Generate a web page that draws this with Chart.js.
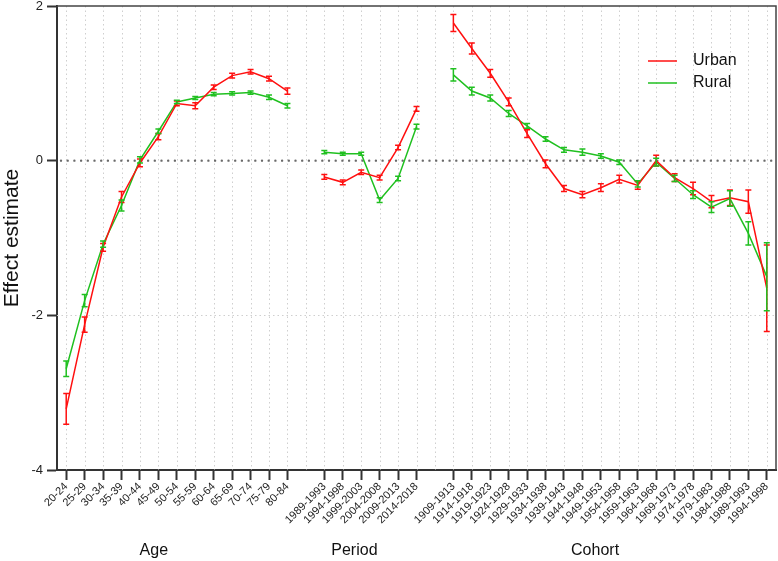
<!DOCTYPE html>
<html>
<head>
<meta charset="utf-8">
<script src="https://cdn.jsdelivr.net/npm/chart.js@4"></script>
<style>
  html, body { margin: 0; padding: 0; background: #fff; }
  #wrap { width: 778px; height: 561px; }
</style>
</head>
<body>
<div id="wrap"><canvas id="apcChart"></canvas></div>
<script>
var ageLabels = ['20-24', '25-29', '30-34', '35-39', '40-44', '45-49', '50-54', '55-59', '60-64', '65-69', '70-74', '75-79', '80-84'];
var periodLabels = ['1989-1993', '1994-1998', '1999-2003', '2004-2008', '2009-2013', '2014-2018'];
var cohortLabels = ['1909-1913', '1914-1918', '1919-1923', '1924-1928', '1929-1933', '1934-1938', '1939-1943', '1944-1948', '1949-1953',
  '1954-1958', '1959-1963', '1964-1968', '1969-1973', '1974-1978', '1979-1983', '1984-1988', '1989-1993', '1994-1998'];
var groupTitles = ['Age', 'Period', 'Cohort'];

// urban estimates and CI half widths
var urbanAge = [-3.21, -2.12, -1.12, -0.47, -0.03, 0.31, 0.74, 0.71, 0.95, 1.10, 1.15, 1.06, 0.90];
var urbanAgeErr = [0.20, 0.10, 0.05, 0.07, 0.05, 0.04, 0.03, 0.04, 0.03, 0.03, 0.03, 0.03, 0.04];
var urbanPeriod = [-0.21, -0.28, -0.15, -0.22, 0.17, 0.67];
var urbanPeriodErr = [0.03, 0.03, 0.03, 0.03, 0.03, 0.03];
var urbanCohort = [1.78, 1.45, 1.13, 0.76, 0.35, -0.04, -0.36, -0.44, -0.35, -0.24, -0.32, 0.00, -0.22, -0.36, -0.53, -0.48, -0.53, -1.65];
var urbanCohortErr = [0.11, 0.07, 0.05, 0.05, 0.05, 0.05, 0.04, 0.04, 0.05, 0.05, 0.05, 0.07, 0.05, 0.08, 0.08, 0.10, 0.15, 0.56];

// rural estimates and CI half widths
var ruralAge = [-2.69, -1.81, -1.08, -0.58, 0.01, 0.38, 0.76, 0.81, 0.86, 0.87, 0.88, 0.82, 0.71];
var ruralAgeErr = [0.10, 0.08, 0.04, 0.07, 0.04, 0.03, 0.02, 0.02, 0.02, 0.02, 0.02, 0.03, 0.03];
var ruralPeriod = [0.11, 0.09, 0.09, -0.51, -0.23, 0.44];
var ruralPeriodErr = [0.02, 0.02, 0.02, 0.03, 0.03, 0.03];
var ruralCohort = [1.11, 0.90, 0.81, 0.61, 0.45, 0.28, 0.14, 0.11, 0.06, -0.02, -0.30, -0.02, -0.23, -0.44, -0.60, -0.49, -0.94, -1.50];
var ruralCohortErr = [0.08, 0.05, 0.04, 0.04, 0.03, 0.03, 0.03, 0.04, 0.03, 0.03, 0.04, 0.05, 0.04, 0.05, 0.07, 0.10, 0.15, 0.44];

var yTicks = [-4, -2, 0, 2];

// one empty slot between the three blocks
function joinGroups(a, b, c, gap) {
  return a.concat([gap], b, [gap], c);
}
var labels = joinGroups(ageLabels, periodLabels, cohortLabels, '');
var urbanData = joinGroups(urbanAge, urbanPeriod, urbanCohort, null);
var urbanErr = joinGroups(urbanAgeErr, urbanPeriodErr, urbanCohortErr, null);
var ruralData = joinGroups(ruralAge, ruralPeriod, ruralCohort, null);
var ruralErr = joinGroups(ruralAgeErr, ruralPeriodErr, ruralCohortErr, null);

var FONT = '"Liberation Sans", Arial, sans-serif';
var RED = '#ff1010';
var GREEN = '#20c020';

var gridPlugin = {
  id: 'gridPlugin',
  beforeDatasetsDraw: function(chart) {
    var ctx = chart.ctx, a = chart.chartArea;
    var x = chart.scales.x, y = chart.scales.y;
    ctx.save();
    ctx.strokeStyle = '#cfcfcf';
    ctx.lineWidth = 1;
    ctx.setLineDash([1.5, 3]);
    for (var i = 0; i < labels.length; i++) {
      var px = Math.round(x.getPixelForValue(i)) + 0.5;
      ctx.beginPath();
      ctx.moveTo(px, a.top);
      ctx.lineTo(px, a.bottom);
      ctx.stroke();
    }
    var py = Math.round(y.getPixelForValue(-2)) + 0.5;
    ctx.beginPath();
    ctx.moveTo(a.left, py);
    ctx.lineTo(a.right, py);
    ctx.stroke();
    // zero reference line
    var pz = y.getPixelForValue(0);
    ctx.strokeStyle = '#6a6a6a';
    ctx.lineWidth = 2.4;
    ctx.lineCap = 'round';
    ctx.setLineDash([0, 6.7]);
    ctx.beginPath();
    ctx.moveTo(a.left + 4, pz);
    ctx.lineTo(a.right, pz);
    ctx.stroke();
    ctx.restore();
  }
};

var errorBarPlugin = {
  id: 'errorBarPlugin',
  afterDatasetsDraw: function(chart) {
    var ctx = chart.ctx, y = chart.scales.y;
    ctx.save();
    chart.data.datasets.forEach(function(ds, di) {
      var meta = chart.getDatasetMeta(di);
      ctx.strokeStyle = ds.borderColor;
      ctx.lineWidth = 1.5;
      ds.data.forEach(function(v, i) {
        if (v === null) return;
        var e = ds.errors[i];
        var px = meta.data[i].x;
        var top = y.getPixelForValue(v + e), bot = y.getPixelForValue(v - e);
        ctx.beginPath();
        ctx.moveTo(px, top); ctx.lineTo(px, bot);
        ctx.moveTo(px - 3, top); ctx.lineTo(px + 3, top);
        ctx.moveTo(px - 3, bot); ctx.lineTo(px + 3, bot);
        ctx.stroke();
      });
    });
    ctx.restore();
  }
};

var decorPlugin = {
  id: 'decorPlugin',
  afterDraw: function(chart) {
    var ctx = chart.ctx, a = chart.chartArea, x = chart.scales.x;
    ctx.save();
    // frame top and right
    ctx.strokeStyle = '#444';
    ctx.lineWidth = 1.5;
    ctx.beginPath();
    ctx.moveTo(a.left, a.top);
    ctx.lineTo(a.right, a.top);
    ctx.lineTo(a.right, a.bottom);
    ctx.stroke();

    // legend
    ctx.font = '16px ' + FONT;
    ctx.textBaseline = 'middle';
    chart.data.datasets.forEach(function(ds, i) {
      var ly = a.top + 55 + i * 22;
      ctx.strokeStyle = ds.borderColor;
      ctx.lineWidth = 1.5;
      ctx.beginPath();
      ctx.moveTo(a.right - 128, ly);
      ctx.lineTo(a.right - 99, ly);
      ctx.stroke();
      ctx.fillStyle = '#111';
      ctx.fillText(ds.label, a.right - 83, ly);
    });

    // group titles below the rotated tick labels
    var starts = [0, ageLabels.length + 1, ageLabels.length + periodLabels.length + 2];
    var counts = [ageLabels.length, periodLabels.length, cohortLabels.length];
    var shift = [-23, -16, -15];
    ctx.fillStyle = '#111';
    ctx.textAlign = 'center';
    groupTitles.forEach(function(t, g) {
      var x0 = x.getPixelForValue(starts[g]);
      var x1 = x.getPixelForValue(starts[g] + counts[g] - 1);
      ctx.fillText(t, (x0 + x1) / 2 + shift[g], 551);
    });
    ctx.restore();
  }
};

new Chart('apcChart', {
  type: 'line',
  data: {
    labels: labels,
    datasets: [{
      label: 'Urban',
      data: urbanData,
      errors: urbanErr,
      borderColor: RED,
      borderWidth: 1.5,
      pointRadius: 0,
      tension: 0,
      spanGaps: false
    }, {
      label: 'Rural',
      data: ruralData,
      errors: ruralErr,
      borderColor: GREEN,
      borderWidth: 1.5,
      pointRadius: 0,
      tension: 0,
      spanGaps: false
    }]
  },
  options: {
    responsive: true,
    maintainAspectRatio: false,
    animation: false,
    layout: { padding: { top: 6, right: 2, left: 0, bottom: 0 } },
    plugins: {
      legend: { display: false },
      tooltip: { enabled: false }
    },
    scales: {
      x: {
        type: 'category',
        offset: true,
        grid: {
          drawOnChartArea: false,
          drawTicks: true,
          tickLength: 10,
          tickWidth: 2,
          tickColor: function(c) { return (c.tick && c.tick.label) ? '#333' : 'rgba(0,0,0,0)'; }
        },
        border: { color: '#333', width: 2 },
        ticks: {
          autoSkip: false,
          minRotation: 45,
          maxRotation: 45,
          padding: 0,
          color: '#222',
          font: { family: FONT, size: 11 }
        },
        afterFit: function(s) { s.height = 91; s.paddingLeft = 0; s.paddingRight = 0; }
      },
      y: {
        min: -4,
        max: 2,
        afterBuildTicks: function(s) { s.ticks = yTicks.map(function(v) { return { value: v }; }); },
        grid: {
          drawOnChartArea: false,
          drawTicks: true,
          tickLength: 10,
          tickWidth: 2,
          tickColor: '#333'
        },
        border: { color: '#333', width: 2 },
        ticks: {
          padding: 4,
          color: '#222',
          font: { family: FONT, size: 13 }
        },
        title: {
          display: true,
          text: 'Effect estimate',
          color: '#111',
          padding: 0,
          font: { family: FONT, size: 21 }
        },
        afterFit: function(s) { s.width = 57; s.paddingTop = 0; s.paddingBottom = 0; }
      }
    }
  },
  plugins: [gridPlugin, errorBarPlugin, decorPlugin]
});
</script>
</body>
</html>
